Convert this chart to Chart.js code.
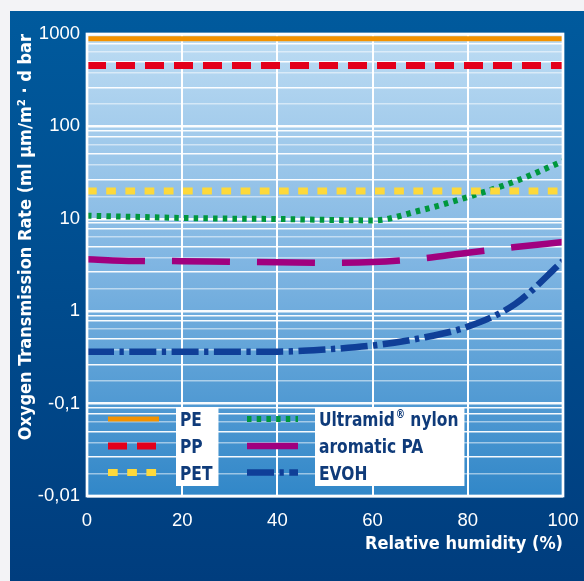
<!DOCTYPE html>
<html>
<head>
<meta charset="utf-8">
<script src="https://cdn.jsdelivr.net/npm/chart.js@4.4.1/dist/chart.umd.min.js"></script>
<style>
  html, body { margin: 0; padding: 0; background: #f3f3f6; }
  canvas { display: block; }
</style>
</head>
<body>
<canvas id="chart" width="584" height="581"></canvas>
<script>
// values (log y axis)
const humidity   = [0, 10, 20, 30, 40, 50, 60, 70, 80, 90, 100];
const pe         = [890, 890, 890, 890, 890, 890, 890, 890, 890, 890, 890];
const pp         = [455, 455, 455, 455, 455, 455, 455, 455, 455, 455, 455];
const pet        = [20, 20, 20, 20, 20, 20, 20, 20, 20, 20, 20];
const ultramid   = [10.8, 10.5, 10.2, 10.05, 9.95, 9.75, 9.6, 12.3, 17.2, 25.5, 42];
const aromaticPA = [3.65, 3.5, 3.48, 3.42, 3.39, 3.35, 3.4, 3.7, 4.3, 4.95, 5.6];
const evoh       = [0.365, 0.365, 0.365, 0.365, 0.365, 0.385, 0.425, 0.51, 0.68, 1.2, 3.5];

const seriesNames = ['PE', 'PP', 'PET', 'Ultramid® nylon', 'aromatic PA', 'EVOH'];
const xTicks = [0, 20, 40, 60, 80, 100];
const yDecades = [0.01, 0.1, 1, 10, 100, 1000];
const yTickLabels = ['-0,01', '-0,1', '1', '10', '100', '1000'];
const gridSteps = [1.75, 2.65, 3.8, 5, 6.4, 7.8, 9];

const FONT = '"Liberation Sans Narrow", "DejaVu Sans Condensed", "Liberation Sans", Arial, sans-serif';
const TICK_FONT = '"Liberation Sans", Arial, sans-serif';

const styles = [
  { color: '#f39200', width: 5,   dash: [] },
  { color: '#e3001b', width: 7,   dash: [19, 10] },
  { color: '#fdd93b', width: 7,   dash: [9.7, 9.5] },
  { color: '#00973d', width: 6,   dash: [4.5, 5.2] },
  { color: '#a0007f', width: 6.5, dash: [58, 27] },
  { color: '#0f3f98', width: 6.5, dash: [27, 5.5, 4.3, 5.5] }
];

const toPoints = (vals) => humidity.map((h, i) => ({ x: h, y: vals[i] }));

const datasets = [pe, pp, pet, ultramid, aromaticPA, evoh].map((vals, i) => ({
  label: seriesNames[i],
  data: toPoints(vals),
  borderColor: styles[i].color,
  borderWidth: styles[i].width,
  borderDash: styles[i].dash,
  pointRadius: 0,
  fill: false,
  cubicInterpolationMode: 'monotone'
}));

const faintSteps = [1.75, 3.8, 6.4];

const backdrop = {
  id: 'backdrop',
  beforeDraw(chart) {
    const { ctx, chartArea: a, width, height } = chart;
    ctx.save();
    ctx.fillStyle = '#f3f3f6';
    ctx.fillRect(0, 0, width, height);
    const panel = ctx.createLinearGradient(0, 11, 0, height);
    panel.addColorStop(0, '#005a9d');
    panel.addColorStop(1, '#003d7e');
    ctx.fillStyle = panel;
    ctx.fillRect(10, 11, width - 10, height - 11);
    const plot = ctx.createLinearGradient(0, a.top, 0, a.bottom);
    plot.addColorStop(0, '#bddcf3');
    plot.addColorStop(0.5, '#7fb5e2');
    plot.addColorStop(1, '#3187c8');
    ctx.fillStyle = plot;
    ctx.fillRect(a.left, a.top, a.right - a.left, a.bottom - a.top);
    ctx.restore();
  },
  afterDatasetsDraw(chart) {
    const { ctx, chartArea: a } = chart;
    ctx.save();
    ctx.strokeStyle = '#ffffff';
    ctx.lineWidth = 2.7;
    ctx.strokeRect(a.left, a.top, a.right - a.left, a.bottom - a.top);
    ctx.restore();
  }
};

// legend drawn inside the plot, two columns with white label boxes
const SQUEEZE = 0.86;
const boxLegend = {
  id: 'boxLegend',
  afterDraw(chart) {
    const { ctx } = chart;
    const cols = [{ lineX: 108, boxX: 176, items: [0, 1, 2] },
                  { lineX: 247, boxX: 315, items: [3, 4, 5] }];
    const rows = [419, 446, 472.5];
    const boxTop = 407, boxBottom = 486;
    const big = 'bold 20px ' + FONT, small = 'bold 12px ' + FONT;
    const textWidth = (label) => {
      const parts = label.split('®');
      ctx.font = big;
      let w = parts.reduce((s, p) => s + ctx.measureText(p).width, 0);
      if (parts.length > 1) { ctx.font = small; w += ctx.measureText('®').width + 1; }
      return w * SQUEEZE;
    };
    ctx.save();
    cols.forEach(col => {
      const w = Math.max(...col.items.map(i => textWidth(chart.data.datasets[i].label)));
      ctx.fillStyle = '#ffffff';
      ctx.fillRect(col.boxX, boxTop, w + 10, boxBottom - boxTop);
      col.items.forEach((i, r) => {
        const ds = chart.data.datasets[i];
        const y = rows[r];
        ctx.setLineDash(ds.borderDash);
        ctx.lineDashOffset = 0;
        ctx.lineWidth = ds.borderWidth;
        ctx.strokeStyle = ds.borderColor;
        ctx.beginPath();
        ctx.moveTo(col.lineX, y);
        ctx.lineTo(col.lineX + 51, y);
        ctx.stroke();
        ctx.setLineDash([]);

        ctx.save();
        ctx.translate(col.boxX + 4, y + 7.3);
        ctx.scale(SQUEEZE, 1);
        ctx.fillStyle = '#0f3b7a';
        ctx.textBaseline = 'alphabetic';
        const parts = ds.label.split('®');
        ctx.font = big;
        ctx.fillText(parts[0], 0, 0);
        if (parts.length > 1) {
          let x = ctx.measureText(parts[0]).width + 1;
          ctx.font = small;
          ctx.fillText('®', x, -8);
          x += ctx.measureText('®').width;
          ctx.font = big;
          ctx.fillText(parts[1], x, 0);
        }
        ctx.restore();
      });
    });
    ctx.restore();
  }
};

new Chart(document.getElementById('chart'), {
  type: 'line',
  data: { datasets },
  options: {
    responsive: false,
    animation: false,
    layout: { padding: { left: 10, top: 34, right: 21, bottom: 0 } },
    plugins: { legend: { display: false }, tooltip: { enabled: false } },
    scales: {
      x: {
        type: 'linear',
        min: 0,
        max: 100,
        afterFit: (s) => { s.height = 85; },
        afterBuildTicks: (s) => { s.ticks = xTicks.map(v => ({ value: v })); },
        border: { display: false },
        grid: {
          drawTicks: true,
          tickLength: 9,
          tickColor: 'rgba(0,0,0,0)',
          lineWidth: 2,
          color: (c) => (c.tick && (c.tick.value === 0 || c.tick.value === 100)) ? 'rgba(0,0,0,0)' : '#ffffff'
        },
        ticks: {
          color: '#ffffff',
          padding: 5,
          maxRotation: 0,
          autoSkip: false,
          font: { family: TICK_FONT, size: 18.5 }
        },
        title: {
          display: true,
          text: 'Relative humidity (%)',
          align: 'end',
          color: '#ffffff',
          padding: { top: 0, bottom: 26 },
          font: { family: FONT, size: 18, weight: 'bold' }
        }
      },
      y: {
        type: 'logarithmic',
        min: 0.01,
        max: 1000,
        afterFit: (s) => { s.width = 77; },
        afterBuildTicks: (s) => {
          const t = [];
          yDecades.forEach((d, k) => {
            t.push({ value: d, major: true, label: yTickLabels[k] });
            if (d < 1000) gridSteps.forEach(m => t.push({ value: d * m, major: false, faint: faintSteps.includes(m) }));
          });
          s.ticks = t;
        },
        border: { display: false },
        grid: {
          drawTicks: false,
          lineWidth: (c) => (c.tick && c.tick.major) ? 2.5 : 1.5,
          color: (c) => (c.tick && c.tick.faint) ? 'rgba(255,255,255,0.5)' : 'rgba(255,255,255,0.95)'
        },
        ticks: {
          color: '#ffffff',
          padding: 7,
          autoSkip: false,
          font: { family: TICK_FONT, size: 18.5 },
          callback: function (value, index, ticks) { return ticks[index].major ? yTickLabels[yDecades.indexOf(value)] : ''; }
        },
        title: {
          display: true,
          text: 'Oxygen Transmission Rate (ml µm/m² · d bar',
          align: 'end',
          color: '#ffffff',
          padding: { top: 6, bottom: 0 },
          font: { family: FONT, size: 18, weight: 'bold' }
        }
      }
    }
  },
  plugins: [backdrop, boxLegend]
});
</script>
</body>
</html>
